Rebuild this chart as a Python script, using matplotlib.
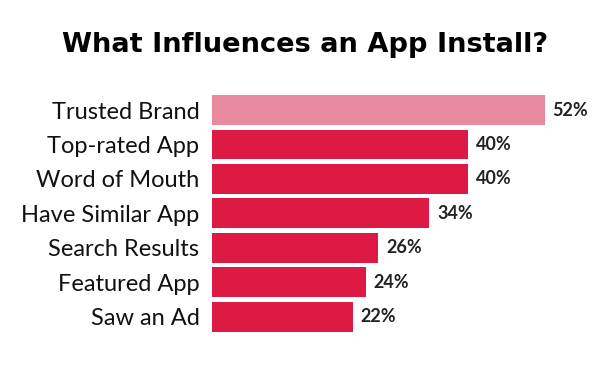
import matplotlib
matplotlib.use('Agg')
import matplotlib.pyplot as plt

# Data
categories = ['Trusted Brand', 'Top-rated App', 'Word of Mouth', 'Have Similar App',
              'Search Results', 'Featured App', 'Saw an Ad']
values = [52, 40, 40, 34, 26, 24, 22]
bar_colors = ['#EA8A9E', '#DC1A44', '#DC1A44', '#DC1A44', '#DC1A44', '#DC1A44', '#DC1A44']

plt.rcParams['font.family'] = ['Lato', 'DejaVu Sans']

fig = plt.figure(figsize=(6.1, 3.7), dpi=100)
fig.patch.set_facecolor('white')
ax = fig.add_axes([0.3475, 0.098, 0.603, 0.651])

y = list(range(len(categories)))
ax.barh(y, values, height=0.87, color=bar_colors)
ax.set_ylim(len(categories) - 0.5, -0.5)
ax.set_xlim(0, 57.5)

ax.set_yticks(y)
ax.set_yticklabels(categories, fontsize=17, color='#111111')
ax.tick_params(axis='y', length=0, pad=9)
ax.set_xticks([])
for s in ax.spines.values():
    s.set_visible(False)

for yi, v in zip(y, values):
    ax.text(v + 1.25, yi, f'{v}%', va='center', ha='left', fontsize=13,
            fontweight='bold', color='#222222')

fig.text(0.5, 0.878, 'What Influences an App Install?', ha='center', va='center',
         fontsize=19.6, fontweight='bold', color='#000000', family='DejaVu Sans')

fig.savefig('out.png', dpi=100)
